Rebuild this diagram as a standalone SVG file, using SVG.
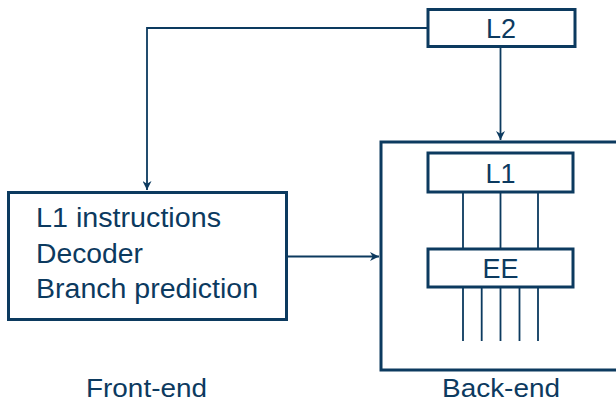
<svg xmlns="http://www.w3.org/2000/svg" width="616" height="404" viewBox="0 0 616 404">
<defs>
<style>
.box{fill:#fff;stroke:#0c3a5f;stroke-width:3}
.ln{fill:none;stroke:#0c3a5f;stroke-width:1.8}
.t{font-family:"Liberation Sans",Arial,sans-serif;font-size:27px;fill:#0c3a5f}
.s{font-size:26px}
.c{text-anchor:middle}
</style>
<marker id="ah" viewBox="0 0 10 10" refX="10" refY="5" markerWidth="9" markerHeight="9" markerUnits="userSpaceOnUse" orient="auto">
<path d="M0,0 L10,5 L0,10 L3,5 Z" fill="#0c3a5f"/>
</marker>
</defs>
<rect width="616" height="404" fill="#fff"/>
<g id="connectors">
<path class="ln" d="M428,28 H147 V190" marker-end="url(#ah)"/>
<path class="ln" d="M500.5,47 V140" marker-end="url(#ah)"/>
<path class="ln" d="M286,256.5 H379" marker-end="url(#ah)"/>
<path class="ln" d="M463,192 V249 M500.5,192 V249 M538,192 V249"/>
<path class="ln" d="M463,287 V341 M481.7,287 V341 M500.5,287 V341 M519.5,287 V341 M538,287 V341"/>
</g>
<g id="l2">
<rect class="box" x="428" y="9.5" width="147" height="37"/>
<text class="t c" x="501" y="38">L2</text>
</g>
<g id="frontend">
<rect class="box" x="8.5" y="192.5" width="278" height="127"/>
<text class="t" x="36" y="227" textLength="185" lengthAdjust="spacingAndGlyphs">L1 instructions</text>
<text class="t" x="36" y="263" textLength="107" lengthAdjust="spacingAndGlyphs">Decoder</text>
<text class="t" x="36" y="298" textLength="222" lengthAdjust="spacingAndGlyphs">Branch prediction</text>
<text class="t s" x="86" y="397" textLength="121" lengthAdjust="spacingAndGlyphs">Front-end</text>
</g>
<g id="backend">
<rect class="box" x="381" y="142" width="250" height="228" style="fill:none"/>
<text class="t s" x="442" y="397" textLength="118" lengthAdjust="spacingAndGlyphs">Back-end</text>
</g>
<g id="l1">
<rect class="box" x="428" y="153" width="145" height="39"/>
<text class="t c" x="500.5" y="183">L1</text>
</g>
<g id="ee">
<rect class="box" x="428" y="249" width="145" height="38"/>
<text class="t c" x="500.5" y="278">EE</text>
</g>
</svg>
